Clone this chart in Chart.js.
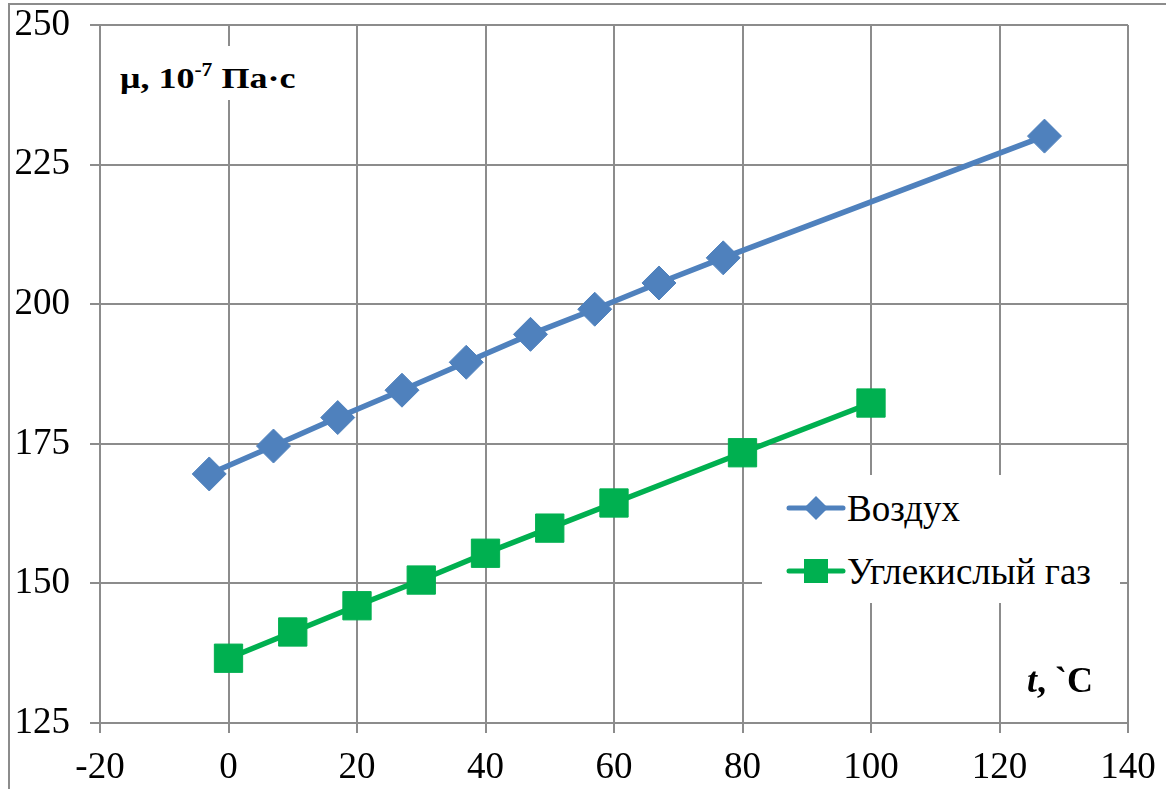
<!DOCTYPE html>
<html>
<head>
<meta charset="utf-8">
<script src="https://cdn.jsdelivr.net/npm/chart.js@4.4.1/dist/chart.umd.min.js"></script>
<style>
  html, body { margin: 0; padding: 0; background: #fff; }
  body { width: 1166px; height: 789px; position: relative; overflow: hidden; font-family: "Liberation Serif", serif; }
  #frame { position: absolute; left: 8px; top: 3px; width: 1200px; height: 820px; border-left: 2px solid #8c8c8c; border-top: 2px solid #8c8c8c; }
  #chart { position: absolute; left: 0; top: 0; }
  #ylabel { position: absolute; left: 112px; top: 46px; width: 200px; height: 54px; background: #fff; }
  #ylabel span { position: absolute; left: 8px; top: 17px; font-family: "Liberation Serif", serif; font-weight: bold; font-size: 30px; line-height: 30px; white-space: nowrap; color: #000; transform: scaleX(1.2); transform-origin: 0 0; }
  #ylabel sup { font-size: 18px; vertical-align: 0; position: relative; top: -12px; }
  #xlabel { position: absolute; left: 1027px; top: 662px; font-family: "Liberation Serif", serif; font-weight: bold; font-size: 36px; line-height: 36px; white-space: nowrap; color: #000; }
  #legend { position: absolute; left: 762px; top: 475px; width: 358px; height: 128px; background: #fff; }
  .entry { position: absolute; left: 24px; height: 40px; white-space: nowrap; font-family: "Liberation Serif", serif; font-size: 37px; line-height: 40px; color: #000; }
  .entry canvas { position: absolute; left: 0; top: 0; }
  .entry span { position: absolute; left: 61px; top: 1px; }
</style>
</head>
<body>
<div id="frame"></div>
<canvas id="chart" width="1166" height="789"></canvas>
<div id="ylabel"><span>μ, 10<sup>-7</sup> Па·с</span></div>
<div id="xlabel"><i>t</i>, `C</div>
<div id="legend"></div>
<script>
// Temperature, °C, and dynamic viscosity, 10^-7 Pa·s
const airT  = [-3, 7, 17, 27, 37, 47, 57, 67, 77, 127];
const airMu = [169.6, 174.6, 179.7, 184.6, 189.6, 194.6, 199.1, 203.8, 208.3, 230.1];
const co2T  = [0, 10, 20, 30, 40, 50, 60, 80, 100];
const co2Mu = [136.6, 141.3, 146.0, 150.6, 155.4, 159.9, 164.4, 173.4, 182.3];

const seriesNames = ['Воздух', 'Углекислый газ'];
const xTicks = { min: -20, max: 140, step: 20 };
const yTicks = { min: 125, max: 250, step: 25 };

const BLUE = '#4f81bd';
const GREEN = '#00b050';
const GRID = '#8c8c8c';
const FONT = '"Liberation Serif", serif';

const toPoints = (xs, ys) => xs.map((x, i) => ({ x: x, y: ys[i] }));

new Chart(document.getElementById('chart'), {
  type: 'scatter',
  data: {
    datasets: [
      {
        label: seriesNames[0],
        data: toPoints(airT, airMu),
        showLine: true,
        borderColor: BLUE,
        backgroundColor: BLUE,
        borderWidth: 5.5,
        pointStyle: 'rectRot',
        pointRadius: 17,
        pointBorderWidth: 1,
        pointBorderColor: BLUE,
        pointBackgroundColor: BLUE
      },
      {
        label: seriesNames[1],
        data: toPoints(co2T, co2Mu),
        showLine: true,
        borderColor: GREEN,
        backgroundColor: GREEN,
        borderWidth: 5.5,
        pointStyle: 'rect',
        pointRadius: 20,
        pointBorderWidth: 1,
        pointBorderColor: GREEN,
        pointBackgroundColor: GREEN
      }
    ]
  },
  options: {
    responsive: false,
    animation: false,
    layout: { padding: { left: 0, top: 25, right: 38, bottom: 0 } },
    plugins: { legend: { display: false }, tooltip: { enabled: false } },
    scales: {
      x: {
        type: 'linear',
        min: xTicks.min, max: xTicks.max,
        ticks: { stepSize: xTicks.step, color: '#000', font: { family: FONT, size: 37 }, padding: 13, maxRotation: 0 },
        grid: { color: GRID, lineWidth: 2, tickLength: 10 },
        border: { color: GRID, width: 2 },
        afterFit: s => { s.height = 66; s.paddingLeft = 0; s.paddingRight = 0; }
      },
      y: {
        type: 'linear',
        min: yTicks.min, max: yTicks.max,
        ticks: { stepSize: yTicks.step, color: '#000', font: { family: FONT, size: 37 }, padding: 20 },
        grid: { color: GRID, lineWidth: 2, tickLength: 10 },
        border: { color: GRID, width: 2 },
        afterFit: s => { s.width = 100; s.paddingTop = 0; s.paddingBottom = 0; }
      }
    }
  }
});

// Legend entries: a short line with the series marker, then the name
const legend = document.getElementById('legend');
const legendItems = [
  { name: seriesNames[0], color: BLUE, shape: 'diamond' },
  { name: seriesNames[1], color: GREEN, shape: 'square' }
];
legendItems.forEach((item, i) => {
  const row = document.createElement('div');
  row.className = 'entry';
  row.style.top = (13 + i * 63) + 'px';
  const c = document.createElement('canvas');
  c.width = 60; c.height = 40;
  const g = c.getContext('2d');
  g.strokeStyle = item.color;
  g.lineWidth = 5;
  g.lineCap = 'round';
  g.beginPath(); g.moveTo(3, 20); g.lineTo(57, 20); g.stroke();
  g.fillStyle = item.color;
  g.beginPath();
  if (item.shape === 'diamond') {
    g.moveTo(30, 8); g.lineTo(42, 20); g.lineTo(30, 32); g.lineTo(18, 20);
  } else {
    g.rect(18, 8, 24, 24);
  }
  g.closePath(); g.fill();
  const t = document.createElement('span');
  t.textContent = item.name;
  row.appendChild(c);
  row.appendChild(t);
  legend.appendChild(row);
});
</script>
</body>
</html>
